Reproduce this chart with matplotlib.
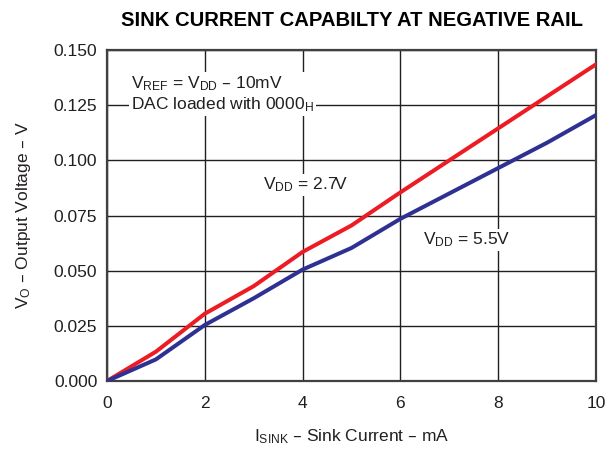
import matplotlib
matplotlib.use('Agg')
import matplotlib.pyplot as plt

plt.rcParams['font.family'] = ['Liberation Sans', 'DejaVu Sans']
plt.rcParams['mathtext.default'] = 'regular'

i_sink = [0, 1, 2, 3, 4, 5, 6, 7, 8, 9, 10]
vo_27 = [0.0, 0.0133, 0.0305, 0.043, 0.0585, 0.0705, 0.0855, 0.100, 0.1145, 0.129, 0.1435]
vo_55 = [0.0, 0.0098, 0.0254, 0.0375, 0.0505, 0.0603, 0.0735, 0.085, 0.0965, 0.108, 0.1205]

xticks = [0, 2, 4, 6, 8, 10]
yticks = [0.0, 0.025, 0.05, 0.075, 0.1, 0.125, 0.15]

fig = plt.figure(figsize=(6.06, 4.53), dpi=100)
ax = fig.add_axes([0.1766, 0.1589, 0.8069, 0.7307])

ax.plot(i_sink, vo_27, color='#ED1C24', lw=2.9, zorder=3)
ax.plot(i_sink, vo_55, color='#2E3192', lw=2.9, zorder=3)

ax.set_xlim(0, 10)
ax.set_ylim(0, 0.15)
ax.set_xticks(xticks)
ax.set_yticks(yticks)
ax.set_yticklabels(['%.3f' % v for v in yticks])
ax.tick_params(length=0, labelsize=12.5, colors='#231F20')
ax.tick_params(axis='x', pad=10.5)
ax.tick_params(axis='y', pad=7)
ax.grid(True, color='#231F20', lw=1.0, zorder=1)
for s in ax.spines.values():
    s.set_linewidth(1.6)
    s.set_color('#404040')

ax.set_xlabel('I$_{SINK}$ – Sink Current – mA', fontsize=12.5, labelpad=12, color='#231F20')
ax.set_ylabel('V$_{O}$ – Output Voltage – V', fontsize=12.5, labelpad=15, color='#231F20')
ax.set_title('SINK CURRENT CAPABILTY AT NEGATIVE RAIL', fontsize=14.6, fontweight='bold', pad=17)

box = dict(facecolor='white', edgecolor='none', pad=1.5)
ax.text(0.5, 0.130, 'V$_{REF}$ = V$_{DD}$ – 10mV\nDAC loaded with 0000$_{H}$',
        fontsize=12.5, va='center', ha='left', linespacing=1.15, bbox=box, zorder=4,
        color='#231F20')
ax.text(3.2, 0.0888, 'V$_{DD}$ = 2.7V', fontsize=12.5, va='center', ha='left', bbox=box,
        zorder=4, color='#231F20')
ax.text(6.46, 0.0639, 'V$_{DD}$ = 5.5V', fontsize=12.5, va='center', ha='left', bbox=box,
        zorder=4, color='#231F20')

fig.savefig('out.png', dpi=100)
